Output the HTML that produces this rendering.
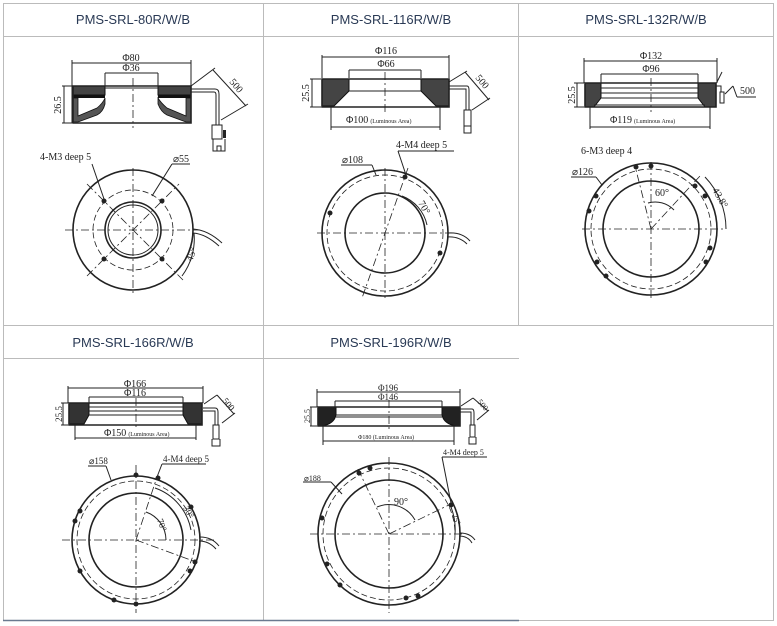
<!DOCTYPE html>
<html><head><meta charset="utf-8"><style>
html,body{margin:0;padding:0;background:#fff;width:777px;height:626px;overflow:hidden}
svg{display:block}
.h{font-family:"Liberation Sans",sans-serif;font-size:13px;fill:#2a3a55}
.t{font-family:"Liberation Serif",serif;font-size:10px;fill:#222}
.s{font-family:"Liberation Serif",serif;font-size:6px;fill:#222}
.l{stroke:#222;stroke-width:1;fill:none}
.k{stroke:#222;stroke-width:1.6;fill:none}
.d{stroke:#222;stroke-width:0.8;fill:none;stroke-dasharray:8 3 2 3}
.ds{stroke:#222;stroke-width:0.8;fill:none;stroke-dasharray:6 3}
.hat{fill:#444;stroke:#111;stroke-width:1}
.dot{fill:#222}
</style></head><body>
<svg width="777" height="626" viewBox="0 0 777 626">
<g stroke="#bbb" stroke-width="1" fill="none">
<rect x="3.5" y="3.5" width="770" height="617"/>
<line x1="3" y1="36.5" x2="774" y2="36.5"/>
<line x1="3" y1="325.5" x2="774" y2="325.5"/>
<line x1="3" y1="358.5" x2="519" y2="358.5"/>
<line x1="263.5" y1="3" x2="263.5" y2="621"/>
<line x1="518.5" y1="3" x2="518.5" y2="326"/>
</g>
<line x1="3" y1="620.5" x2="519" y2="620.5" stroke="#6a7a90" stroke-width="1.5"/>
<text class="h" x="133" y="24" text-anchor="middle">PMS-SRL-80R/W/B</text>
<text class="h" x="391" y="24" text-anchor="middle">PMS-SRL-116R/W/B</text>
<text class="h" x="646" y="24" text-anchor="middle">PMS-SRL-132R/W/B</text>
<text class="h" x="133" y="347" text-anchor="middle">PMS-SRL-166R/W/B</text>
<text class="h" x="391" y="347" text-anchor="middle">PMS-SRL-196R/W/B</text>

<!-- ========== Cell 1 ========== -->
<g>
<line class="l" x1="72" y1="63" x2="191" y2="63"/><line class="l" x1="72" y1="60" x2="72" y2="123"/><line class="l" x1="191" y1="60" x2="191" y2="86"/>
<text class="t" x="131" y="61" text-anchor="middle">Φ80</text>
<line class="l" x1="105" y1="73" x2="158" y2="73"/><line class="l" x1="105" y1="73" x2="105" y2="86"/><line class="l" x1="158" y1="73" x2="158" y2="86"/>
<text class="t" x="131" y="71" text-anchor="middle">Φ36</text>
<rect class="hat" x="73" y="86" width="32" height="9"/><rect class="hat" x="158" y="86" width="33" height="9"/>
<rect x="73" y="95" width="32" height="3" fill="#111"/><rect x="158" y="95" width="33" height="3" fill="#111"/>
<path d="M73 98 H78 V116 L97 108 Q103 103 105 98 V104 Q103 112 97 115 L78 122 H73 Z" fill="#555" stroke="#111" stroke-width="0.8"/>
<path d="M191 98 H186 V116 L167 108 Q161 103 158 98 V104 Q161 112 167 115 L186 122 H191 Z" fill="#555" stroke="#111" stroke-width="0.8"/>
<path class="k" d="M73 86 V123 H191 V86 Z"/>
<line class="l" x1="105" y1="88" x2="158" y2="88"/>
<line class="d" x1="133" y1="78" x2="133" y2="128"/>
<line class="l" x1="62" y1="86" x2="72" y2="86"/><line class="l" x1="62" y1="123" x2="72" y2="123"/><line class="l" x1="64" y1="86" x2="64" y2="123"/>
<text class="t" transform="translate(61,105) rotate(-90)" text-anchor="middle">26.5</text>
<path class="l" d="M191 89 H215 Q219 89 219 94 V125 M191 92 H214 Q216 92 216 95 V125"/>
<rect x="212" y="125" width="10" height="14" fill="none" stroke="#222"/><rect x="223" y="130" width="3" height="8" fill="#222"/>
<path class="l" d="M213 139 v12 h12 v-12 M217 151 v-5 h4 v5"/>
<line class="l" x1="191" y1="86" x2="215" y2="68"/><line class="l" x1="221" y1="120" x2="248" y2="104"/><line class="l" x1="213" y1="70" x2="246" y2="106"/>
<text class="t" transform="translate(229,82) rotate(50)">500</text>
<circle class="k" cx="133" cy="230" r="60"/>
<circle class="ds" cx="133" cy="230" r="40"/>
<circle class="k" cx="133" cy="230" r="28"/><circle class="l" cx="133" cy="230" r="25"/>
<line class="d" x1="65" y1="230" x2="200" y2="230"/><line class="d" x1="133" y1="168" x2="133" y2="294"/>
<line class="d" x1="87" y1="184" x2="183" y2="280"/><line class="d" x1="87" y1="276" x2="179" y2="184"/>
<circle class="dot" cx="104" cy="201" r="2.5"/><circle class="dot" cx="162" cy="201" r="2.5"/><circle class="dot" cx="104" cy="259" r="2.5"/><circle class="dot" cx="162" cy="259" r="2.5"/>
<text class="t" x="40" y="160">4-M3 deep 5</text><line class="l" x1="92" y1="164" x2="104" y2="199"/>
<text class="t" x="173" y="162">⌀55</text><line class="l" x1="172" y1="164" x2="190" y2="164"/><line class="l" x1="172" y1="164" x2="152" y2="196"/>
<path class="l" d="M193 229 Q208 230 222 243 M193 233 Q206 234 219 246"/>
<path class="l" d="M182 276 A62 62 0 0 0 194 233"/>
<text class="t" transform="translate(192,262) rotate(-70)">45°</text>
</g>

<!-- ========== Cell 2 ========== -->
<g>
<line class="l" x1="322" y1="57" x2="449" y2="57"/><line class="l" x1="322" y1="55" x2="322" y2="78"/><line class="l" x1="449" y1="55" x2="449" y2="78"/>
<text class="t" x="386" y="54" text-anchor="middle">Φ116</text>
<line class="l" x1="349" y1="70" x2="421" y2="70"/><line class="l" x1="349" y1="70" x2="349" y2="78"/><line class="l" x1="421" y1="70" x2="421" y2="78"/>
<text class="t" x="386" y="67" text-anchor="middle">Φ66</text>
<path class="hat" d="M322 79 H349 V91 L334 106 H322 Z"/>
<path class="hat" d="M449 79 H421 V91 L436 106 H449 Z"/>
<path class="k" d="M322 79 H449 V107 H322 Z"/>
<line class="l" x1="349" y1="91" x2="421" y2="91"/>
<line class="d" x1="385" y1="72" x2="385" y2="112"/>
<line class="l" x1="310" y1="79" x2="321" y2="79"/><line class="l" x1="310" y1="107" x2="321" y2="107"/><line class="l" x1="312" y1="79" x2="312" y2="107"/>
<text class="t" transform="translate(309,93) rotate(-90)" text-anchor="middle">25.5</text>
<line class="l" x1="331" y1="107" x2="331" y2="130"/><line class="l" x1="440" y1="107" x2="440" y2="130"/><line class="l" x1="331" y1="127" x2="440" y2="127"/>
<text class="t" x="346" y="123">Φ100<tspan class="s" dx="2">(Luminous Area)</tspan></text>
<path class="l" d="M449 86 H467 Q469 86 469 90 V110 M449 89 H466 V110"/>
<rect x="464" y="110" width="7" height="16" fill="none" stroke="#222"/><path class="l" d="M464 126 v7 h7 v-7"/>
<line class="l" x1="449" y1="82" x2="467" y2="71"/><line class="l" x1="472" y1="110" x2="490" y2="98"/><line class="l" x1="465" y1="72" x2="489" y2="100"/>
<text class="t" transform="translate(475,78) rotate(50)">500</text>
<circle class="k" cx="385" cy="233" r="63"/>
<circle class="ds" cx="385" cy="233" r="58"/>
<circle class="k" cx="385" cy="233" r="40"/>
<line class="d" x1="317" y1="233" x2="455" y2="233"/><line class="d" x1="385" y1="168" x2="385" y2="298"/>
<line class="d" x1="408" y1="168" x2="362" y2="298"/>
<circle class="dot" cx="405" cy="177" r="2.5"/><circle class="dot" cx="330" cy="213" r="2.5"/><circle class="dot" cx="440" cy="253" r="2.5"/>
<text class="t" x="396" y="148">4-M4 deep 5</text><line class="l" x1="398" y1="151" x2="454" y2="151"/><line class="l" x1="398" y1="151" x2="406" y2="175"/>
<text class="t" x="342" y="163">⌀108</text><line class="l" x1="341" y1="165" x2="372" y2="165"/><line class="l" x1="372" y1="165" x2="376" y2="175"/>
<path class="l" d="M402 196 A40 40 0 0 1 427 225"/>
<text class="t" transform="translate(418,203) rotate(60)">70°</text>
<path class="l" d="M448 233 Q462 232 470 241 M447 237 Q459 236 467 244"/>
</g>

<!-- ========== Cell 3 ========== -->
<g>
<line class="l" x1="584" y1="61" x2="717" y2="61"/><line class="l" x1="584" y1="58" x2="584" y2="83"/><line class="l" x1="717" y1="58" x2="717" y2="83"/>
<text class="t" x="651" y="59" text-anchor="middle">Φ132</text>
<line class="l" x1="601" y1="74" x2="698" y2="74"/><line class="l" x1="601" y1="74" x2="601" y2="83"/><line class="l" x1="698" y1="74" x2="698" y2="83"/>
<text class="t" x="651" y="72" text-anchor="middle">Φ96</text>
<path class="hat" d="M585 83 H601 V98 L594 107 H585 Z"/>
<path class="hat" d="M716 83 H698 V98 L705 107 H716 Z"/>
<path class="k" d="M585 83 H716 V107 H585 Z"/>
<line class="l" x1="601" y1="88" x2="698" y2="88"/><line class="l" x1="601" y1="93" x2="698" y2="93"/><line class="l" x1="601" y1="98" x2="698" y2="98"/><line class="l" x1="594" y1="105" x2="705" y2="105"/>
<line class="d" x1="651" y1="78" x2="651" y2="112"/>
<line class="l" x1="574" y1="83" x2="584" y2="83"/><line class="l" x1="574" y1="107" x2="584" y2="107"/><line class="l" x1="577" y1="83" x2="577" y2="107"/>
<text class="t" transform="translate(575,95) rotate(-90)" text-anchor="middle">25.5</text>
<line class="l" x1="590" y1="107" x2="590" y2="129"/><line class="l" x1="710" y1="107" x2="710" y2="129"/><line class="l" x1="590" y1="127" x2="710" y2="127"/>
<text class="t" x="610" y="123">Φ119<tspan class="s" dx="2">(Luminous Area)</tspan></text>
<path class="l" d="M716 86 H721 V92"/><rect x="720" y="92" width="4" height="11" fill="none" stroke="#222"/>
<line class="l" x1="717" y1="82" x2="722" y2="72"/><line class="l" x1="725" y1="94" x2="733" y2="86"/><line class="l" x1="733" y1="86" x2="737" y2="97"/><line class="l" x1="737" y1="97" x2="756" y2="97"/>
<text class="t" x="740" y="94">500</text>
<circle class="k" cx="651" cy="229" r="66"/>
<path class="ds" d="M591 229 A60 60 0 0 1 711 229 A60 60 0 0 1 591 229"/>
<circle class="k" cx="651" cy="229" r="48"/>
<line class="d" x1="582" y1="229" x2="725" y2="229"/><line class="d" x1="651" y1="162" x2="651" y2="300"/>
<line class="d" x1="651" y1="229" x2="635" y2="166"/><line class="d" x1="651" y1="229" x2="700" y2="176"/>
<circle class="dot" cx="651" cy="166" r="2.5"/><circle class="dot" cx="636" cy="167" r="2.5"/><circle class="dot" cx="596" cy="196" r="2.5"/><circle class="dot" cx="589" cy="211" r="2.5"/><circle class="dot" cx="705" cy="196" r="2.5"/><circle class="dot" cx="695" cy="186" r="2.5"/><circle class="dot" cx="597" cy="262" r="2.5"/><circle class="dot" cx="606" cy="276" r="2.5"/><circle class="dot" cx="706" cy="262" r="2.5"/><circle class="dot" cx="710" cy="248" r="2.5"/>
<text class="t" x="581" y="154">6-M3 deep 4</text>
<text class="t" x="572" y="175">⌀126</text><line class="l" x1="571" y1="177" x2="596" y2="177"/><line class="l" x1="596" y1="177" x2="602" y2="185"/>
<path class="l" d="M648 203 A26 26 0 0 1 674 210"/>
<text class="t" x="655" y="196">60°</text>
<path class="l" d="M705 177 A75 75 0 0 1 726 229"/>
<text class="t" transform="translate(712,190) rotate(60)">43.8°</text>
</g>

<!-- ========== Cell 4 ========== -->
<g>
<line class="l" x1="68" y1="388" x2="203" y2="388"/><line class="l" x1="68" y1="386" x2="68" y2="403"/><line class="l" x1="203" y1="386" x2="203" y2="403"/>
<text class="t" x="135" y="387" text-anchor="middle">Φ166</text>
<line class="l" x1="89" y1="397" x2="183" y2="397"/><line class="l" x1="89" y1="397" x2="89" y2="403"/><line class="l" x1="183" y1="397" x2="183" y2="403"/>
<text class="t" x="135" y="396" text-anchor="middle">Φ116</text>
<path d="M69 403 H89 V415 L84 424 H69 Z" fill="#333" stroke="#111"/>
<path d="M202 403 H183 V415 L188 424 H202 Z" fill="#333" stroke="#111"/>
<path class="k" d="M69 403 H202 V425 H69 Z"/>
<line class="l" x1="89" y1="407" x2="183" y2="407"/><line class="l" x1="89" y1="411" x2="183" y2="411"/><line class="l" x1="89" y1="415" x2="183" y2="415"/>
<line class="d" x1="136" y1="398" x2="136" y2="430"/>
<line class="l" x1="61" y1="403" x2="68" y2="403"/><line class="l" x1="61" y1="425" x2="68" y2="425"/><line class="l" x1="63" y1="403" x2="63" y2="425"/>
<text class="t" transform="translate(62,414) rotate(-90)" text-anchor="middle" style="font-size:9px">25.5</text>
<line class="l" x1="75" y1="425" x2="75" y2="440"/><line class="l" x1="196" y1="425" x2="196" y2="440"/><line class="l" x1="75" y1="438" x2="196" y2="438"/>
<text class="t" x="104" y="436">Φ150<tspan class="s" dx="2">(Luminous Area)</tspan></text>
<path class="l" d="M203 408 H215 Q218 408 218 412 V425 M203 411 H215 V425"/>
<rect x="213" y="425" width="6" height="14" fill="none" stroke="#222"/><path class="l" d="M212 439 v7 h8 v-7"/>
<line class="l" x1="204" y1="404" x2="217" y2="395"/><line class="l" x1="222" y1="423" x2="235" y2="413"/><line class="l" x1="217" y1="395" x2="234" y2="414"/>
<text class="t" transform="translate(222,401) rotate(50)" style="font-size:9px">500</text>
<circle class="k" cx="136" cy="540" r="64"/>
<circle class="ds" cx="136" cy="540" r="59"/>
<circle class="k" cx="136" cy="540" r="47"/>
<line class="d" x1="62" y1="540" x2="215" y2="540"/><line class="d" x1="136" y1="465" x2="136" y2="613"/>
<line class="d" x1="136" y1="540" x2="157" y2="477"/><line class="d" x1="136" y1="540" x2="196" y2="562"/>
<circle class="dot" cx="136" cy="475" r="2.5"/><circle class="dot" cx="158" cy="478" r="2.5"/><circle class="dot" cx="191" cy="507" r="2.5"/><circle class="dot" cx="80" cy="511" r="2.5"/><circle class="dot" cx="75" cy="521" r="2.5"/><circle class="dot" cx="195" cy="562" r="2.5"/><circle class="dot" cx="190" cy="571" r="2.5"/><circle class="dot" cx="80" cy="571" r="2.5"/><circle class="dot" cx="114" cy="600" r="2.5"/><circle class="dot" cx="136" cy="604" r="2.5"/>
<text class="t" x="89" y="464" style="font-size:9px">⌀158</text><line class="l" x1="88" y1="466" x2="106" y2="466"/><line class="l" x1="106" y1="466" x2="111" y2="480"/>
<text class="t" x="163" y="462" style="font-size:9px">4-M4 deep 5</text><line class="l" x1="162" y1="464" x2="206" y2="464"/><line class="l" x1="162" y1="464" x2="157" y2="477"/>
<path class="l" d="M146 512 A30 30 0 0 1 166 540"/>
<text class="t" transform="translate(157,520) rotate(70)" style="font-size:9px">70°</text>
<path class="l" d="M155 488 A55 55 0 0 1 191 530"/>
<text class="t" transform="translate(183,508) rotate(60)" style="font-size:9px">30°</text>
<path class="l" d="M200 537 Q212 537 219 546 M199 541 Q209 541 216 549"/>
</g>

<!-- ========== Cell 5 ========== -->
<g>
<line class="l" x1="317" y1="392" x2="460" y2="392"/><line class="l" x1="317" y1="389" x2="317" y2="407"/><line class="l" x1="460" y1="389" x2="460" y2="407"/>
<text class="t" x="388" y="391" text-anchor="middle" style="font-size:9px">Φ196</text>
<line class="l" x1="335" y1="401" x2="442" y2="401"/><line class="l" x1="335" y1="401" x2="335" y2="407"/><line class="l" x1="442" y1="401" x2="442" y2="407"/>
<text class="t" x="388" y="400" text-anchor="middle" style="font-size:9px">Φ146</text>
<path d="M318 407 H336 V415 Q334 424 322 426 H318 Z" fill="#222" stroke="#111"/>
<path d="M460 407 H442 V415 Q444 424 456 426 H460 Z" fill="#222" stroke="#111"/>
<path class="k" d="M318 407 H460 V426 H318 Z"/>
<line class="l" x1="336" y1="415" x2="442" y2="415"/><line class="l" x1="336" y1="417" x2="442" y2="417"/>
<line class="d" x1="389" y1="400" x2="389" y2="430"/>
<line class="l" x1="310" y1="407" x2="317" y2="407"/><line class="l" x1="310" y1="426" x2="317" y2="426"/><line class="l" x1="311" y1="407" x2="311" y2="426"/>
<text class="t" transform="translate(310,416) rotate(-90)" text-anchor="middle" style="font-size:8px">25.5</text>
<line class="l" x1="323" y1="426" x2="323" y2="445"/><line class="l" x1="454" y1="426" x2="454" y2="445"/><line class="l" x1="323" y1="441" x2="454" y2="441"/>
<text class="s" x="358" y="439">Φ180 (Luminous Area)</text>
<path class="l" d="M460 409 H472 Q474 409 474 413 V425 M460 412 H471 V425"/>
<rect x="470" y="425" width="5" height="12" fill="none" stroke="#222"/><path class="l" d="M469 437 v7 h7 v-7"/>
<line class="l" x1="461" y1="406" x2="473" y2="398"/><line class="l" x1="477" y1="420" x2="489" y2="410"/><line class="l" x1="473" y1="398" x2="488" y2="411"/>
<text class="t" transform="translate(477,402) rotate(50)" style="font-size:8px">500</text>
<circle class="k" cx="389" cy="534" r="71"/>
<circle class="ds" cx="389" cy="534" r="66"/>
<circle class="k" cx="389" cy="534" r="54"/>
<line class="d" x1="310" y1="534" x2="462" y2="534"/><line class="d" x1="389" y1="457" x2="389" y2="613"/>
<line class="d" x1="389" y1="534" x2="357" y2="467"/><line class="d" x1="389" y1="534" x2="453" y2="503"/>
<circle class="dot" cx="370" cy="468" r="2.5"/><circle class="dot" cx="359" cy="473" r="2.5"/><circle class="dot" cx="451" cy="505" r="2.5"/><circle class="dot" cx="322" cy="518" r="2.5"/><circle class="dot" cx="327" cy="564" r="2.5"/><circle class="dot" cx="340" cy="585" r="2.5"/><circle class="dot" cx="406" cy="598" r="2.5"/><circle class="dot" cx="418" cy="596" r="2.5"/>
<text class="t" x="304" y="481" style="font-size:8px">⌀188</text><line class="l" x1="303" y1="482" x2="331" y2="482"/><line class="l" x1="331" y1="482" x2="342" y2="494"/>
<text class="t" x="443" y="455" style="font-size:8px">4-M4 deep 5</text><line class="l" x1="442" y1="457" x2="487" y2="457"/><line class="l" x1="442" y1="457" x2="451" y2="503"/>
<path class="l" d="M377 507 A30 30 0 0 1 415 520"/>
<text class="t" x="394" y="505">90°</text>
<path class="l" d="M451 507 A62 62 0 0 1 455 534"/>
<text class="t" transform="translate(452,515) rotate(70)" style="font-size:8px">25°</text>
<path class="l" d="M460 533 Q470 533 475 540 M459 536 Q468 536 472 543"/>
</g>
</svg>
</body></html>
